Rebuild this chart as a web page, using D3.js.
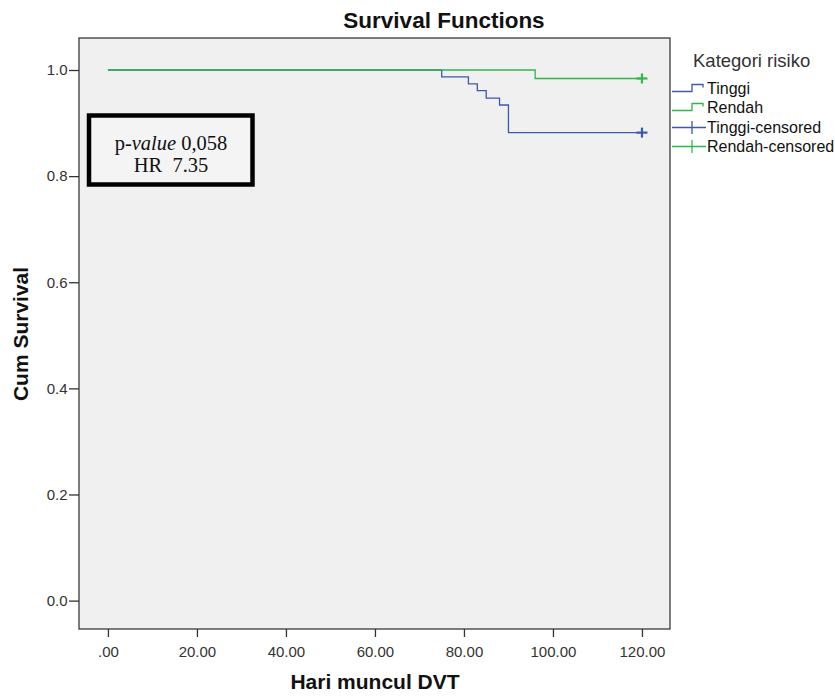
<!DOCTYPE html>
<html>
<head>
<meta charset="utf-8">
<script src="https://cdn.jsdelivr.net/npm/d3@7"></script>
<style>
  body { margin: 0; background: #fff; }
  svg { display: block; font-family: "Liberation Sans", Arial, sans-serif; }
</style>
</head>
<body>
<div id="chart"></div>
<script>
// Kaplan-Meier step data
const tinggiTimes = [0, 75, 81, 83, 85, 88, 90, 120];
const tinggiSurv = [1.0, 0.987, 0.974, 0.961, 0.947, 0.934, 0.882, 0.882];
const rendahTimes = [0, 96, 120];
const rendahSurv = [1.0, 0.984, 0.984];
const tinggiCensored = [[120, 0.882]];
const rendahCensored = [[120, 0.984]];

const xTicks = [0, 20, 40, 60, 80, 100, 120];
const yTicks = [0, 0.2, 0.4, 0.6, 0.8, 1.0];
const legendItems = ["Tinggi", "Rendah", "Tinggi-censored", "Rendah-censored"];

const blue = "#3e58ac", green = "#2eb848";

const svgWidth = 835, svgHeight = 697;
const frame = { left: 79, right: 670, top: 38, bottom: 629 };

const svg = d3.select("#chart").append("svg")
    .attr("width", svgWidth)
    .attr("height", svgHeight);

const x = d3.scaleLinear().domain([-6.5, 126.3]).range([frame.left, frame.right]);
const y = d3.scaleLinear().domain([-0.0535, 1.0603]).range([frame.bottom, frame.top]);

// plot background
svg.append("rect")
    .attr("x", frame.left).attr("y", frame.top)
    .attr("width", frame.right - frame.left)
    .attr("height", frame.bottom - frame.top)
    .attr("fill", "#f0f0f0")
    .attr("stroke", "#3a3a3a")
    .attr("stroke-width", 1.3);

// title
svg.append("text")
    .attr("x", 444).attr("y", 28)
    .attr("text-anchor", "middle")
    .attr("font-size", 22.5).attr("font-weight", "bold")
    .attr("fill", "#111")
    .text("Survival Functions");

// axes
const xAxis = svg.append("g")
    .attr("transform", `translate(0,${frame.bottom})`)
    .call(d3.axisBottom(x).tickValues(xTicks).tickFormat(d => d === 0 ? ".00" : d3.format(".2f")(d)).tickSize(8).tickPadding(9.5));
xAxis.select(".domain").remove();

const yAxis = svg.append("g")
    .attr("transform", `translate(${frame.left},0)`)
    .call(d3.axisLeft(y).tickValues(yTicks).tickFormat(d3.format(".1f")).tickSize(10).tickPadding(1.5));
yAxis.select(".domain").remove();

svg.selectAll(".tick line").attr("stroke", "#333").attr("stroke-width", 1.3);
svg.selectAll(".tick text").attr("font-size", 15).attr("fill", "#333")
    .attr("font-family", "'Liberation Sans', Arial, sans-serif");

// axis titles
svg.append("text")
    .attr("x", 375).attr("y", 689)
    .attr("text-anchor", "middle")
    .attr("font-size", 21).attr("font-weight", "bold").attr("fill", "#111")
    .text("Hari muncul DVT");

svg.append("text")
    .attr("transform", "translate(28,334) rotate(-90)")
    .attr("text-anchor", "middle")
    .attr("font-size", 21).attr("font-weight", "bold").attr("fill", "#111")
    .text("Cum Survival");

// survival curves
const line = d3.line().curve(d3.curveStepAfter).x(d => x(d[0])).y(d => y(d[1]));

svg.append("path")
    .datum(tinggiTimes.map((t, i) => [t, tinggiSurv[i]]))
    .attr("d", line)
    .attr("fill", "none").attr("stroke", blue).attr("stroke-width", 1.3);

svg.append("path")
    .datum(rendahTimes.map((t, i) => [t, rendahSurv[i]]))
    .attr("d", line)
    .attr("fill", "none").attr("stroke", green).attr("stroke-width", 1.3);

// censored markers
function plus(sel, data, color) {
  const g = sel.append("g").attr("stroke", color).attr("stroke-width", 2.2);
  data.forEach(d => {
    g.append("line").attr("x1", x(d[0]) - 5.5).attr("x2", x(d[0]) + 5.5).attr("y1", y(d[1])).attr("y2", y(d[1]));
    g.append("line").attr("x1", x(d[0])).attr("x2", x(d[0])).attr("y1", y(d[1]) - 5).attr("y2", y(d[1]) + 5);
  });
}
plus(svg, tinggiCensored, blue);
plus(svg, rendahCensored, green);

// p-value box
svg.append("rect")
    .attr("x", 89).attr("y", 115.5)
    .attr("width", 163.5).attr("height", 69)
    .attr("fill", "#f4f4f4")
    .attr("stroke", "#000").attr("stroke-width", 4.5);

const box = svg.append("g").attr("font-family", "'Liberation Serif', 'Times New Roman', serif")
    .attr("font-size", 20.5).attr("fill", "#111").attr("text-anchor", "middle");
const t1 = box.append("text").attr("x", 171).attr("y", 150);
t1.append("tspan").text("p-");
t1.append("tspan").attr("font-style", "italic").text("value");
t1.append("tspan").text(" 0,058");
box.append("text").attr("x", 171).attr("y", 172).attr("xml:space", "preserve").text("HR  7.35");

// legend
svg.append("text")
    .attr("x", 693).attr("y", 67)
    .attr("font-size", 18.5).attr("fill", "#333")
    .text("Kategori risiko");

const legendColors = [blue, green, blue, green];
const legendY = [94, 113, 133, 152];
legendItems.forEach((name, i) => {
  const yc = legendY[i] - 5.5;
  const g = svg.append("g");
  if (i < 2) {
    g.append("path")
      .attr("d", `M672,${yc + 3} H692 V${yc - 4} H703 V${yc - 1}`)
      .attr("fill", "none").attr("stroke", legendColors[i]).attr("stroke-width", 1.3);
  } else {
    g.append("path")
      .attr("d", `M672,${yc} H706 M692,${yc - 6.5} V${yc + 6.5}`)
      .attr("fill", "none").attr("stroke", legendColors[i]).attr("stroke-width", 1.3);
  }
  g.append("text")
    .attr("x", 707).attr("y", legendY[i])
    .attr("font-size", 16).attr("fill", "#111")
    .text(name);
});
</script>
</body>
</html>
